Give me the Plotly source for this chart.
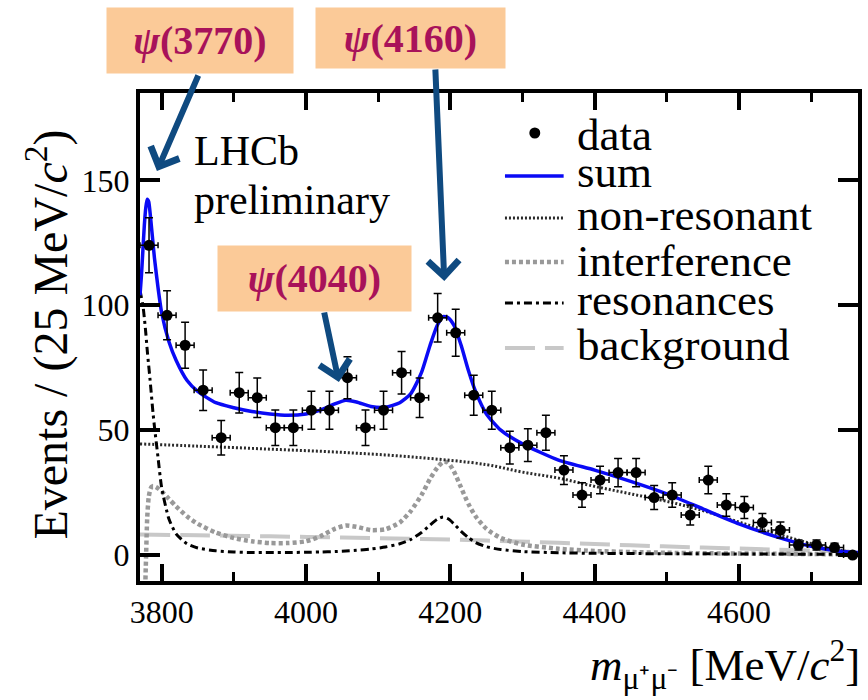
import plotly.graph_objects as go

# ---------------- data ----------------
bin_centers = [3782.5, 3807.5, 3832.5, 3857.5, 3882.5, 3907.5, 3932.5, 3957.5,
               3982.5, 4007.5, 4032.5, 4057.5, 4082.5, 4107.5, 4132.5, 4157.5,
               4182.5, 4207.5, 4232.5, 4257.5, 4282.5, 4307.5, 4332.5, 4357.5,
               4382.5, 4407.5, 4432.5, 4457.5, 4482.5, 4507.5, 4532.5, 4557.5,
               4582.5, 4607.5, 4632.5, 4657.5, 4682.5, 4707.5, 4732.5, 4757.5]
counts = [124, 96, 84, 66, 47, 65, 63, 51,
          51, 58, 58, 71, 51, 58, 73, 63,
          95, 89, 64, 58, 43, 44, 49, 34,
          24, 30, 33, 33, 23, 24, 16, 30,
          20, 19, 13, 10, 4, 4, 3, 0]
count_err = [11.0, 9.8, 9.2, 8.1, 6.9, 8.1, 7.9, 7.1,
             7.1, 7.6, 7.6, 8.4, 7.1, 7.6, 8.5, 7.9,
             9.7, 9.4, 8.0, 7.6, 6.6, 6.6, 7.0, 5.8,
             4.9, 5.5, 5.7, 5.7, 4.8, 4.9, 4.0, 5.5,
             4.5, 4.4, 3.6, 3.2, 2.0, 2.0, 1.7, 1.0]
bin_half_width = 12.5

curve_x = [3770, 3772, 3774, 3776, 3778, 3780, 3782, 3784, 3786, 3788,
           3790, 3795, 3800, 3810, 3820, 3835, 3850, 3875, 3900, 3925,
           3950, 3975, 4000, 4020, 4040, 4055, 4070, 4090, 4110, 4130,
           4145, 4160, 4172, 4182, 4190, 4197, 4205, 4215, 4225, 4235,
           4250, 4270, 4300, 4350, 4400, 4450, 4500, 4550, 4600, 4650,
           4700, 4740, 4765]
sum_y = [104, 112, 122, 132, 139, 142.5, 141.5, 137, 131, 125,
         119, 107, 97, 85.5, 78, 70, 65.5, 61, 59, 57.5,
         56.5, 56, 56.5, 58, 60.5, 62, 61.3, 59.5, 59.2, 61,
         64.5, 73, 84, 92, 95.5, 95, 92, 84, 74, 65.5,
         56.5, 50, 44.5, 38, 34, 29.5, 24.5, 18.5, 12.5, 7.5,
         3.5, 1.5, 1]
interf_y = [-40, -40, -35, -25, -5, 15, 23, 26, 27.3, 27.6,
            27.5, 26.7, 25.5, 22.5, 19.5, 15.5, 12.5, 9, 6.8, 5.5,
            4.8, 4.8, 5.5, 7.5, 10.5, 11.8, 11.3, 10, 10.3, 13,
            17.5, 24, 30.5, 35, 37.3, 37, 33.5, 27, 20.5, 15.5,
            10.5, 6.8, 4.2, 2.5, 1.6, 1.2, 0.9, 0.7, 0.6, 0.5,
            0.4, 0.3, 0.2]
reson_y = [106, 103, 100, 95, 89, 82, 76, 70, 63.5, 57,
           51.5, 39, 27, 14.5, 8.5, 4.5, 2.8, 1.7, 1.2, 1.0,
           1.0, 1.0, 1.1, 1.2, 1.4, 1.6, 1.9, 2.4, 3.2, 4.5,
           6.2, 9, 12, 14.3, 15.2, 14.5, 12.5, 9.5, 7, 5,
           3.3, 2.2, 1.4, 0.9, 0.7, 0.6, 0.5, 0.5, 0.4, 0.4,
           0.3, 0.3, 0.2]
nonres_x = [3770, 3850, 3950, 4050, 4150, 4250, 4300, 4350, 4400, 4450,
            4500, 4550, 4600, 4650, 4700, 4740, 4765]
nonres_y = [44.5, 43.6, 42.4, 41.1, 39.2, 36.2, 33.2, 30.8, 27.5, 24.5,
            21.5, 17.8, 13.2, 8.7, 4.6, 1.9, 0.5]
bkg_x = [3770, 3850, 3950, 4050, 4150, 4250, 4350, 4450, 4550, 4650, 4765]
bkg_y = [8.2, 7.9, 7.5, 7.0, 6.5, 5.8, 4.9, 3.9, 3.0, 2.2, 1.3]

legend_labels = ["data", "sum", "non-resonant", "interference", "resonances", "background"]
state_labels = ["3770", "4160", "4040"]
x_title_html = "<i>m</i><sub>μ⁺μ⁻</sub> [MeV/<i>c</i><sup>2</sup>]"
y_title_html = "Events / (25 MeV/<i>c</i><sup>2</sup>)"

# ---------------- geometry helpers ----------------
W, H = 868, 700
L, R, T, B = 140, 862, 93, 581
XR = [3770, 4765]
YR = [-10.4, 185]


def px(xp):
    return (xp - L) / (R - L)


def py(yp):
    return (B - yp) / (B - T)


def dx(xp):
    return XR[0] + (xp - L) / (R - L) * (XR[1] - XR[0])


def dy(yp):
    return YR[0] + (B - yp) / (B - T) * (YR[1] - YR[0])


SERIF = "Liberation Serif, Times New Roman, serif"
BLUE = "#0a0af5"
NONRES = "#2a2a2a"
INTERF = "#999999"
BKG = "#c8c8c8"
fig = go.Figure()

fig.add_trace(go.Scatter(x=bkg_x, y=bkg_y, mode="lines", line_shape="spline",
                         line=dict(color=BKG, width=4, dash="30px,10px")))
fig.add_trace(go.Scatter(x=curve_x, y=interf_y, mode="lines", line_shape="spline",
                         line=dict(color=INTERF, width=4.5, dash="4px,3px", smoothing=0.6)))
fig.add_trace(go.Scatter(x=nonres_x, y=nonres_y, mode="lines", line_shape="spline",
                         line=dict(color=NONRES, width=3, dash="2px,2px")))
fig.add_trace(go.Scatter(x=curve_x, y=reson_y, mode="lines", line_shape="spline",
                         line=dict(color="black", width=3, dash="8px,4px,3px,4px", smoothing=0.6)))
fig.add_trace(go.Scatter(x=curve_x, y=sum_y, mode="lines", line_shape="spline",
                         line=dict(color=BLUE, width=3.5, smoothing=0.6)))
fig.add_trace(go.Scatter(
    x=bin_centers, y=counts, mode="markers",
    marker=dict(color="black", size=11),
    error_y=dict(type="data", array=count_err, color="black", thickness=1.5, width=4),
    error_x=dict(type="constant", value=bin_half_width, color="black", thickness=1.5, width=3),
))

fig.update_layout(
    width=W, height=H,
    margin=dict(l=L, r=W - R, t=T, b=H - B, pad=0),
    paper_bgcolor="white", plot_bgcolor="white",
    showlegend=False,
    font=dict(family=SERIF, color="black"),
)
fig.update_xaxes(
    range=XR, showgrid=False, zeroline=False,
    showline=True, linecolor="black", linewidth=4, mirror="allticks",
    ticks="inside", ticklen=17, tickwidth=4, tickcolor="black",
    tick0=3800, dtick=200, tickfont=dict(family=SERIF, size=32, color="black"),
    minor=dict(tick0=3800, dtick=100, ticks="inside", ticklen=9, tickwidth=3,
               tickcolor="black", showgrid=False),
)
fig.update_yaxes(
    range=YR, showgrid=False, zeroline=False,
    showline=True, linecolor="black", linewidth=4, mirror="allticks",
    ticks="inside", ticklen=20, tickwidth=4, tickcolor="black",
    tick0=0, dtick=50, tickfont=dict(family=SERIF, size=32, color="black"),
)

ann = []
# axis titles
ann.append(dict(xref="paper", yref="paper", x=px(46), y=py(335), text=y_title_html,
                textangle=-90, showarrow=False, xanchor="center", yanchor="middle",
                font=dict(family=SERIF, size=48, color="black")))
ann.append(dict(xref="paper", yref="paper", x=px(866), y=py(664), text=x_title_html,
                showarrow=False, xanchor="right", yanchor="middle",
                font=dict(family=SERIF, size=45, color="black")))
# LHCb label
ann.append(dict(xref="paper", yref="paper", x=px(192), y=py(151), text="LHCb",
                showarrow=False, xanchor="left", yanchor="middle",
                font=dict(family=SERIF, size=42, color="black")))
ann.append(dict(xref="paper", yref="paper", x=px(192), y=py(200), text="preliminary",
                showarrow=False, xanchor="left", yanchor="middle",
                font=dict(family=SERIF, size=42, color="black")))

# legend (drawn by hand)
leg_rows = [133, 176, 218, 262, 303, 348]
leg_text_y = [135, 172, 215, 261, 300, 345]
for lab, ty in zip(legend_labels, leg_text_y):
    ann.append(dict(xref="paper", yref="paper", x=px(577), y=py(ty), text=lab,
                    showarrow=False, xanchor="left", yanchor="middle",
                    font=dict(family=SERIF, size=45, color="black")))

shapes = []
shapes.append(dict(type="circle", xref="paper", yref="paper",
                   x0=px(531.5), x1=px(542.5), y0=py(leg_rows[0] - 5.5), y1=py(leg_rows[0] + 5.5),
                   fillcolor="black", line=dict(color="black", width=0)))
leg_styles = [
    dict(color=BLUE, width=3.5),
    dict(color=NONRES, width=3, dash="2px,2px"),
    dict(color=INTERF, width=4.5, dash="4px,3px"),
    dict(color="black", width=3, dash="8px,4px,3px,4px"),
    dict(color=BKG, width=4, dash="30px,10px"),
]
for yy, st in zip(leg_rows[1:], leg_styles):
    shapes.append(dict(type="line", xref="paper", yref="paper",
                       x0=px(507), x1=px(566), y0=py(yy), y1=py(yy), line=st))

# arrows
ARROW = "#0f4a80"
arrows = [((199, 74), (157, 171)), ((437, 68), (446, 281)), ((325, 311), (340, 382))]
for (tx, ty), (hx, hy) in arrows:
    ann.append(dict(xref="x", yref="y", x=dx(hx), y=dy(hy), ax=tx - hx, ay=ty - hy,
                    text="", showarrow=True, arrowhead=4, arrowsize=1.0,
                    arrowwidth=6, arrowcolor=ARROW, standoff=0))

# state boxes
BOX = "#fbca98"
TXT = "#a8125a"
boxes = [(107, 8, 293, 73), (318, 8, 507, 68), (219, 246, 412, 311)]
for lab, (x0, y0, x1, y1) in zip(state_labels, boxes):
    ann.append(dict(xref="paper", yref="paper", x=px((x0 + x1) / 2), y=py((y0 + y1) / 2),
                    text="<b><i>ψ</i>(" + lab + ")</b>", showarrow=False,
                    xanchor="center", yanchor="middle", width=x1 - x0, height=y1 - y0,
                    bgcolor=BOX, borderpad=0, align="center", valign="middle",
                    font=dict(family=SERIF, size=40, color=TXT)))

fig.update_layout(annotations=ann, shapes=shapes)
fig.write_html("out.html")
